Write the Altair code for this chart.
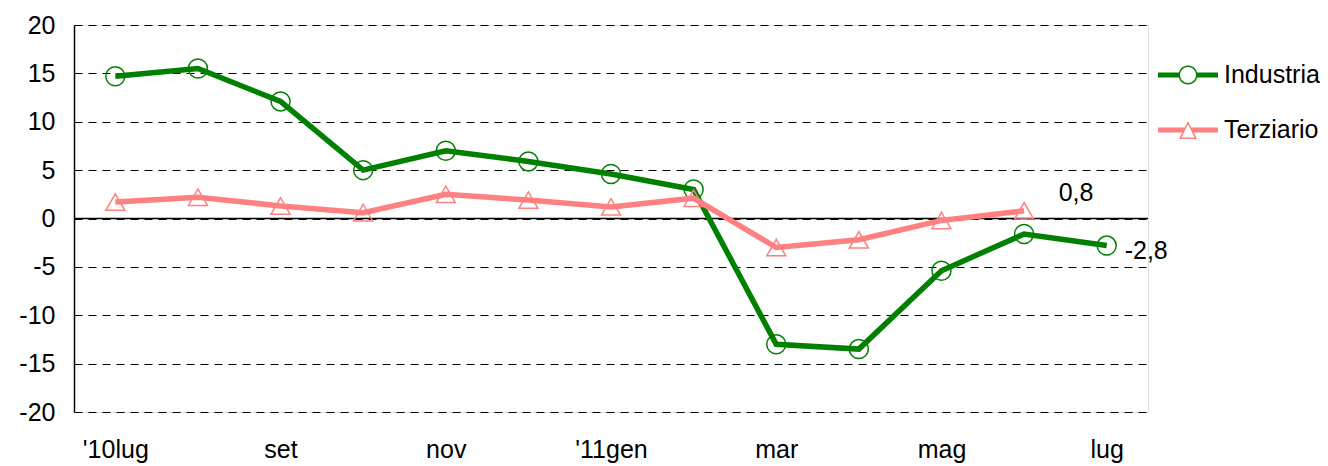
import math
import altair as alt
import pandas as pd

# ---------------- data ----------------
months = ["'10lug", "ago", "set", "ott", "nov", "dic", "'11gen",
          "feb", "mar", "apr", "mag", "giu", "lug"]
shown_months = ["'10lug", "set", "nov", "'11gen", "mar", "mag", "lug"]

industria = [14.7, 15.5, 12.1, 5.0, 7.0, 5.9, 4.6, 3.0, -13.0, -13.5, -5.4, -1.6, -2.8]
terziario = [1.7, 2.2, 1.3, 0.6, 2.5, 1.9, 1.2, 2.1, -3.0, -2.2, -0.2, 0.8]

series_names = ["Industria", "Terziario"]
series_colors = ["#008000", "#FF8080"]
series_markers = ["circle", "triangle-up"]

label_series = ["Terziario", "Industria"]
label_months = ["giu", "lug"]
label_values = [0.8, -2.8]
label_texts = ["0,8", "-2,8"]

y_ticks = [-20, -15, -10, -5, 0, 5, 10, 15, 20]
zero_line = [0]

# ---------------- tables ----------------
rows = []
for m, v in zip(months, industria):
    rows.append({"mese": m, "valore": v, "serie": "Industria"})
for m, v in zip(months, terziario):
    rows.append({"mese": m, "valore": v, "serie": "Terziario"})
df = pd.DataFrame(rows)

df_lab = pd.DataFrame({"serie": label_series, "mese": label_months,
                       "valore": label_values, "testo": label_texts})
df_zero = pd.DataFrame({"valore": zero_line})


# ---------------- legend symbol paths (styling only) ----------------
def ring(rad, n=28, rev=False):
    pts = []
    for i in range(n):
        a = 2 * math.pi * i / n
        if rev:
            a = -a
        pts.append((rad * math.cos(a), rad * math.sin(a)))
    return "M" + "L".join(f"{x:.3f},{y:.3f}" for x, y in pts) + "Z"


h = 0.17
p_ind = (
    f"M-2,{-h}L-0.6,{-h}L-0.6,{h}L-2,{h}Z"
    f"M0.6,{-h}L2,{-h}L2,{h}L0.6,{h}Z"
    + ring(0.633) + ring(0.533, rev=True)
)
p_ter = (
    f"M-2,{-h}L-0.215,{-h}L-0.385,{h}L-2,{h}Z"
    f"M0.215,{-h}L2,{-h}L2,{h}L0.385,{h}Z"
    "M0,-0.6L0.6,0.6L-0.6,0.6Z"
    "M0,-0.376L-0.438,0.5L0.438,0.5Z"
)

FONT = "Liberation Sans"

x_scale = alt.Scale(type="point", domain=months, padding=0.5)
x_enc = alt.X(
    "mese:O",
    scale=x_scale,
    axis=alt.Axis(values=shown_months, title=None, domain=False, ticks=False,
                  grid=False, labelAngle=0, labelFontSize=25, labelColor="black",
                  labelPadding=25, labelFont=FONT),
)
y_enc = alt.Y(
    "valore:Q",
    scale=alt.Scale(domain=[-20, 20], nice=False, zero=False),
    axis=alt.Axis(values=y_ticks, title=None, ticks=False, domain=True,
                  domainColor="black", domainWidth=1.5, grid=True,
                  gridColor="black", gridDash=[8, 6], gridWidth=1,
                  labelFontSize=25, labelColor="black", labelPadding=19,
                  labelFont=FONT, labelExpr="toString(datum.value)"),
)

color_scale = alt.Scale(domain=series_names, range=series_colors)
shape_scale = alt.Scale(domain=series_names, range=[p_ind, p_ter])

legend = alt.Legend(
    title=None, orient="none", legendX=1099, legendY=35,
    symbolSize=900, symbolStrokeWidth=0, labelOffset=21, rowPadding=27,
    labelFontSize=25, labelFont=FONT, labelColor="black", labelLimit=0,
    symbolOpacity=1,
)

layers = [alt.Chart(df_zero).mark_rule(color="black", strokeWidth=1.5).encode(y=y_enc)]

for name, col, mk in zip(series_names, series_colors, series_markers):
    base = alt.Chart(df).transform_filter(f"datum.serie == '{name}'")
    layers.append(base.mark_line(strokeWidth=5.5, color=col).encode(x=x_enc, y=y_enc))
    layers.append(base.mark_point(shape=mk, filled=False, size=361, strokeWidth=1.5,
                                  opacity=1, color=col).encode(x=x_enc, y=y_enc))

# legend carrier (draws nothing in the plot)
layers.append(
    alt.Chart(df).transform_filter("false").mark_point(filled=True, opacity=1).encode(
        x=x_enc, y=y_enc,
        color=alt.Color("serie:N", scale=color_scale, legend=legend),
        shape=alt.Shape("serie:N", scale=shape_scale, legend=legend),
    )
)

layers.append(
    alt.Chart(df_lab).transform_filter("datum.serie == 'Terziario'").mark_text(
        align="center", baseline="middle", dx=52, dy=-18, fontSize=25, font=FONT, color="black"
    ).encode(x=x_enc, y=y_enc, text="testo:N")
)
layers.append(
    alt.Chart(df_lab).transform_filter("datum.serie == 'Industria'").mark_text(
        align="left", baseline="middle", dx=18, dy=5, fontSize=25, font=FONT, color="black"
    ).encode(x=x_enc, y=y_enc, text="testo:N")
)

chart = (
    alt.layer(*layers)
    .properties(width=1074, height=387,
                padding={"left": 10, "top": 5, "right": 0, "bottom": 5})
    .configure_view(stroke=None)
    .configure(font=FONT)
)

chart.save("out.html", embed_options={"renderer": "svg", "actions": False})
